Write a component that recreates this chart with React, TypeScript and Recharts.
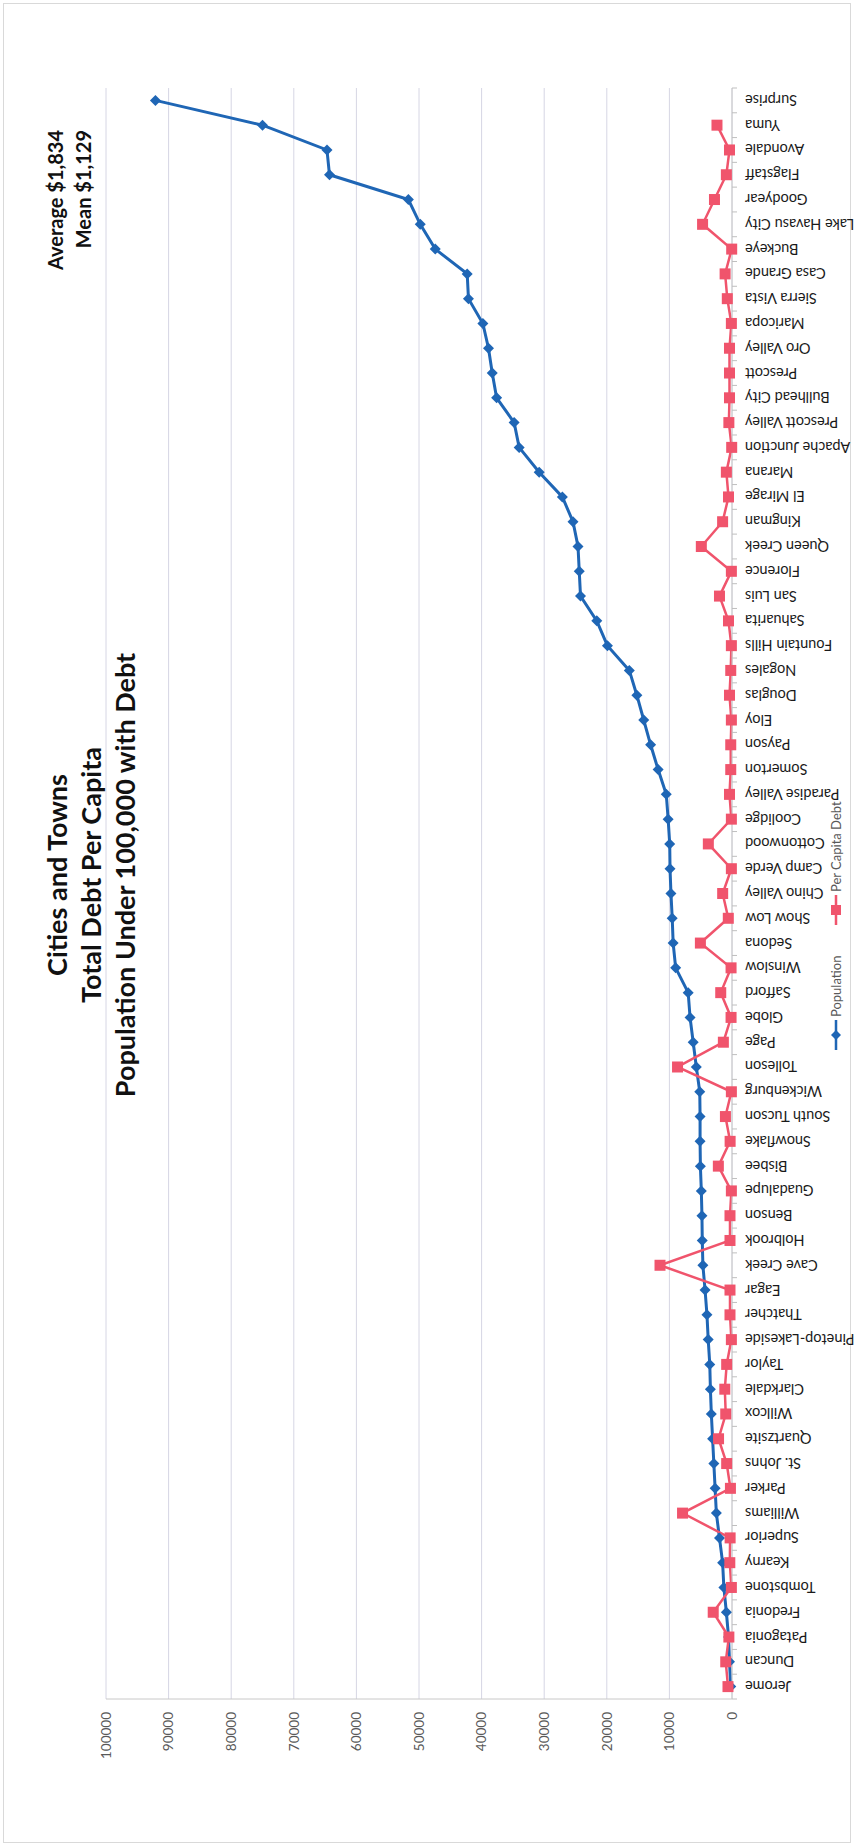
import React from 'react';
import { LineChart, Line, XAxis, YAxis, CartesianGrid } from 'recharts';

// Chart is laid out on its side: drawn 1845 wide x 862 tall, then turned -90deg
const cities = [
  'Jerome', 'Duncan', 'Patagonia', 'Fredonia', 'Tombstone', 'Kearny', 'Superior', 'Williams',
  'Parker', 'St. Johns', 'Quartzsite', 'Willcox', 'Clarkdale', 'Taylor', 'Pinetop-Lakeside',
  'Thatcher', 'Eagar', 'Cave Creek', 'Holbrook', 'Benson', 'Guadalupe', 'Bisbee', 'Snowflake',
  'South Tucson', 'Wickenburg', 'Tolleson', 'Page', 'Globe', 'Safford', 'Winslow', 'Sedona',
  'Show Low', 'Chino Valley', 'Camp Verde', 'Cottonwood', 'Coolidge', 'Paradise Valley',
  'Somerton', 'Payson', 'Eloy', 'Douglas', 'Nogales', 'Fountain Hills', 'Sahuarita', 'San Luis',
  'Florence', 'Queen Creek', 'Kingman', 'El Mirage', 'Marana', 'Apache Junction',
  'Prescott Valley', 'Bullhead City', 'Prescott', 'Oro Valley', 'Maricopa', 'Sierra Vista',
  'Casa Grande', 'Buckeye', 'Lake Havasu City', 'Goodyear', 'Flagstaff', 'Avondale', 'Yuma',
  'Surprise',
];

const population = [
  200, 400, 550, 900, 1300, 1500, 2000, 2500,
  2700, 2900, 3100, 3300, 3450, 3550, 3800,
  4000, 4300, 4650, 4750, 4800, 4900, 5050, 5100,
  5100, 5150, 5700, 6200, 6700, 7000, 9000, 9400,
  9550, 9750, 9900, 9950, 10200, 10500,
  11800, 13000, 14100, 15200, 16400, 19900, 21600, 24200,
  24400, 24600, 25400, 27100, 30800, 34000,
  34800, 37600, 38300, 38900, 39800, 42100,
  42300, 47400, 49800, 51700, 64300, 64700, 75000,
  92100,
];

const perCapitaDebt = [
  640, 1000, 500, 3000, 100, 350, 300, 7900,
  250, 850, 2150, 1000, 1150, 850, 100,
  320, 320, 11500, 320, 320, 100, 2180, 300,
  1050, 100, 8700, 1380, 150, 1800, 150, 5050,
  590, 1490, 100, 3780, 100, 400,
  200, 200, 100, 400, 200, 100, 560, 2000,
  100, 4900, 1500, 560, 900, 50,
  500, 400, 400, 400, 100, 750,
  1100, 50, 4700, 2800, 900, 400, 2400,
  null,
];

const valueTicks = [0, 10000, 20000, 30000, 40000, 50000, 60000, 70000, 80000, 90000, 100000];

const titleLines = ['Cities and Towns', 'Total Debt Per Capita', 'Population Under 100,000 with Debt'];
const noteLines = ['Average $1,834', 'Mean $1,129'];

const BLUE = '#1f66b5';
const RED = '#f0546c';
const FONT = 'Lato, "Open Sans", sans-serif';

const W = 1845;
const H = 862;
const LEFT = 146;
const RIGHT = 88;
const BAND = (W - LEFT - RIGHT) / cities.length;

const data = cities.map((city, i) => ({
  city,
  population: population[i],
  debt: perCapitaDebt[i],
}));

const renderDiamond = (props: any) => {
  const { cx, cy, index } = props;
  if (cx == null || cy == null) return <g key={`pd-${index}`} />;
  const r = 5.5;
  return (
    <path
      key={`pd-${index}`}
      d={`M${cx},${cy - r}L${cx + r},${cy}L${cx},${cy + r}L${cx - r},${cy}Z`}
      fill={BLUE}
    />
  );
};

const renderSquare = (props: any) => {
  const { cx, cy, index } = props;
  if (cx == null || cy == null) return <g key={`ds-${index}`} />;
  return <rect key={`ds-${index}`} x={cx - 5.5} y={cy - 5.5} width={11} height={11} fill={RED} />;
};

const CityTick = (props: any) => {
  const { x, y, payload, index } = props;
  const half = BAND / 2;
  const ty = y + 13;
  return (
    <g>
      <line x1={x - half} y1={y} x2={x - half} y2={y + 5} stroke="#bfbfbf" />
      {index === cities.length - 1 && (
        <line x1={x + half} y1={y} x2={x + half} y2={y + 5} stroke="#bfbfbf" />
      )}
      <text
        x={x}
        y={ty}
        transform={`rotate(-90 ${x} ${ty})`}
        textAnchor="end"
        dominantBaseline="central"
        fontSize={14.5}
        fontFamily={FONT}
        fill="#1a1a1a"
      >
        {payload.value}
      </text>
    </g>
  );
};

function LegendItem({ left, color, label, square }: { left: number; color: string; label: string; square?: boolean }) {
  return (
    <div style={{ position: 'absolute', left, top: 826, height: 20, display: 'flex', alignItems: 'center' }}>
      <svg width={30} height={20}>
        <line x1={0} y1={10} x2={30} y2={10} stroke={color} strokeWidth={2.5} />
        {square ? (
          <rect x={10} y={5} width={10} height={10} fill={color} />
        ) : (
          <path d="M15,5L20,10L15,15L10,10Z" fill={color} />
        )}
      </svg>
      <span style={{ marginLeft: 3, fontSize: 13, color: '#595959', fontFamily: FONT, whiteSpace: 'nowrap' }}>
        {label}
      </span>
    </div>
  );
}

export default function App() {
  return (
    <div style={{ position: 'absolute', left: 0, top: 0, width: 862, height: 1845, background: '#fff', overflow: 'hidden' }}>
      <div style={{ position: 'absolute', left: 3, top: 3, width: 846, height: 1838, border: '1px solid #d9d9d9' }} />
      <div
        style={{
          position: 'absolute',
          left: 0,
          top: 0,
          width: W,
          height: H,
          transformOrigin: '0 0',
          transform: `translateY(${W}px) rotate(-90deg)`,
        }}
      >
        <LineChart width={W} height={H} data={data} margin={{ top: 106, right: RIGHT, bottom: 0, left: 0 }}>
          <CartesianGrid vertical={false} stroke="#d6d6e4" />
          <XAxis
            dataKey="city"
            interval={0}
            height={130}
            padding={{ left: BAND / 2, right: BAND / 2 }}
            tickSize={0}
            tickMargin={0}
            tickLine={false}
            axisLine={{ stroke: '#c8c8c8' }}
            tick={CityTick}
          />
          <YAxis
            type="number"
            domain={[0, 100000]}
            ticks={valueTicks}
            width={LEFT}
            tickSize={0}
            tickMargin={13}
            tickLine={false}
            axisLine={{ stroke: '#c8c8c8' }}
            tick={{ fontSize: 13.5, fill: '#595959', fontFamily: FONT }}
          />
          <Line
            dataKey="population"
            stroke={BLUE}
            strokeWidth={3}
            dot={renderDiamond}
            activeDot={false}
            isAnimationActive={false}
          />
          <Line
            dataKey="debt"
            stroke={RED}
            strokeWidth={2.5}
            dot={renderSquare}
            activeDot={false}
            isAnimationActive={false}
          />
        </LineChart>

        <div
          style={{
            position: 'absolute',
            left: 0,
            top: 40,
            width: 1940,
            textAlign: 'center',
            fontFamily: FONT,
            fontWeight: 700,
            fontSize: 27,
            lineHeight: '34px',
            color: '#111',
          }}
        >
          {titleLines.map((t) => (
            <div key={t}>{t}</div>
          ))}
        </div>

        <div
          style={{
            position: 'absolute',
            right: W - 1715,
            top: 41,
            textAlign: 'right',
            fontFamily: FONT,
            fontWeight: 700,
            fontSize: 20,
            lineHeight: '28px',
            color: '#111',
            whiteSpace: 'nowrap',
          }}
        >
          {noteLines.map((t) => (
            <div key={t}>{t}</div>
          ))}
        </div>

        <LegendItem left={795} color={BLUE} label="Population" />
        <LegendItem left={920} color={RED} label="Per Capita Debt" square />
      </div>
    </div>
  );
}
